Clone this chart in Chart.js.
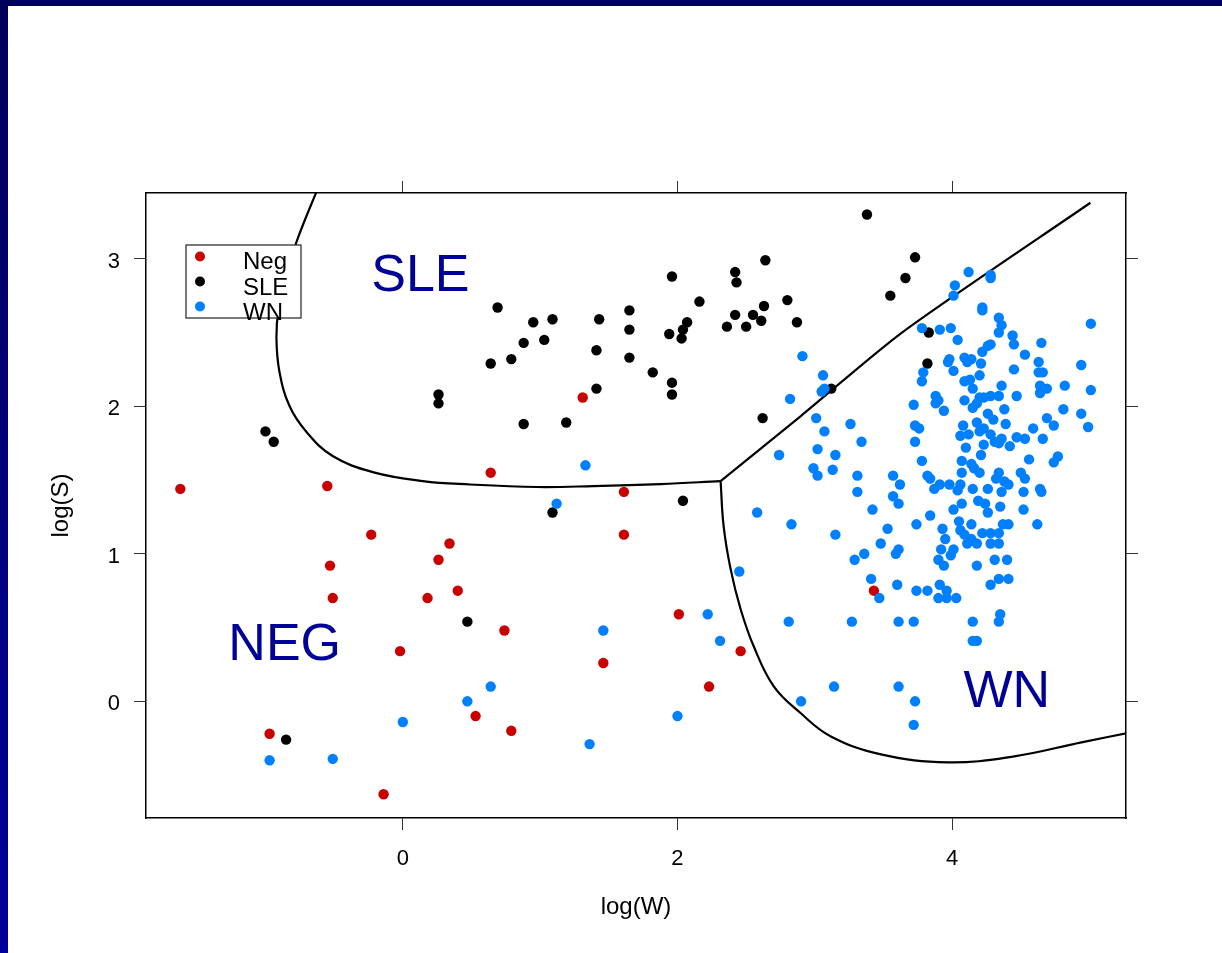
<!DOCTYPE html>
<html lang="en">
<head>
    <meta charset="UTF-8">
    <title>log(S) vs log(W)</title>
    <script src="https://cdn.jsdelivr.net/npm/chart.js"></script>
    <style>
        html, body { margin: 0; padding: 0; background: #fff; overflow: hidden; }
        canvas { display: block; }
    </style>
</head>
<body>
<canvas id="myChart" width="1222" height="953"></canvas>
<script>
// axis ranges and tick values
const xRange = [-1.870, 5.266];
const yRange = [-0.791, 3.446];
const xTicks = [0, 2, 4];
const yTicks = [0, 1, 2, 3];

const seriesNames = ['Neg', 'SLE', 'WN'];
const seriesColors = ['#C80000', '#000000', '#0080FF'];

// [log(W), log(S)]
const negPoints = [
    [-1.62, 1.44], [-0.55, 1.46], [-0.23, 1.13], [-0.53, 0.92], [-0.51, 0.70], [0.26, 0.96],
    [0.34, 1.07], [0.18, 0.70], [0.40, 0.75], [-0.02, 0.34], [-0.97, -0.22], [-0.14, -0.63],
    [0.64, 1.55], [1.31, 2.06], [1.61, 1.42], [1.61, 1.13], [0.74, 0.48], [0.53, -0.10],
    [0.79, -0.20], [1.46, 0.26], [2.01, 0.59], [2.46, 0.34], [2.23, 0.10], [3.43, 0.75]
];

const slePoints = [
    [-1.00, 1.83], [-0.94, 1.76], [0.26, 2.08], [0.26, 2.02], [-0.85, -0.26], [0.47, 0.54],
    [0.69, 2.67], [0.95, 2.57], [1.09, 2.59], [0.88, 2.43], [1.03, 2.45], [0.79, 2.32],
    [0.64, 2.29], [1.43, 2.59], [1.41, 2.38], [1.41, 2.12], [1.65, 2.65], [1.65, 2.52],
    [1.65, 2.33], [1.96, 2.88], [1.94, 2.49], [2.03, 2.46], [2.04, 2.52], [2.07, 2.57],
    [2.16, 2.71], [1.82, 2.23], [1.96, 2.16], [1.96, 2.08], [2.42, 2.91], [2.43, 2.84],
    [2.64, 2.99], [2.42, 2.62], [2.55, 2.62], [2.63, 2.68], [2.61, 2.58], [2.36, 2.54],
    [2.50, 2.54], [2.80, 2.72], [2.87, 2.57], [0.88, 1.88], [1.19, 1.89], [2.62, 1.92],
    [2.04, 1.36], [1.09, 1.28], [3.38, 3.30], [3.73, 3.01], [3.66, 2.87], [3.55, 2.75],
    [3.83, 2.50], [3.82, 2.29], [3.12, 2.12]
];

const wnPoints = [
    [0.47, 0.00], [0.00, -0.14], [-0.97, -0.40], [-0.51, -0.39], [1.33, 1.60], [1.12, 1.34],
    [2.82, 2.05], [2.74, 1.67], [2.58, 1.28], [2.83, 1.20], [2.45, 0.88], [2.22, 0.59],
    [2.31, 0.41], [2.81, 0.54], [1.46, 0.48], [0.64, 0.10], [2.00, -0.10], [1.36, -0.29],
    [2.90, 0.00], [2.91, 2.34],
    [4.12, 2.91], [4.28, 2.89], [4.28, 2.87], [4.02, 2.82], [4.01, 2.75], [4.22, 2.67],
    [4.22, 2.65], [4.34, 2.60], [4.36, 2.55], [4.34, 2.50], [5.01, 2.56], [3.78, 2.53],
    [3.91, 2.52], [3.99, 2.53], [4.04, 2.45], [4.44, 2.48], [4.45, 2.42], [4.65, 2.43],
    [4.22, 2.37], [4.26, 2.41], [4.28, 2.42], [4.53, 2.35], [3.98, 2.32], [3.97, 2.30],
    [4.09, 2.33], [4.14, 2.32], [4.11, 2.30], [4.21, 2.29], [4.63, 2.30], [4.66, 2.23],
    [4.63, 2.23], [4.94, 2.28], [3.79, 2.23], [3.78, 2.17], [4.01, 2.24], [4.20, 2.21],
    [4.45, 2.25], [3.06, 2.21], [3.07, 2.12], [3.05, 2.10], [4.09, 2.17], [4.13, 2.18],
    [4.15, 2.12], [4.36, 2.14], [4.64, 2.14], [4.69, 2.12], [4.64, 2.09], [4.82, 2.14],
    [5.01, 2.11], [3.88, 2.07], [3.90, 2.04], [3.88, 2.02], [4.09, 2.04], [4.20, 2.06],
    [4.18, 2.02], [4.23, 2.06], [4.28, 2.07], [4.34, 2.07], [4.15, 1.99], [4.47, 2.07],
    [3.72, 2.01], [3.94, 1.97], [4.38, 1.98], [4.81, 1.98], [4.94, 1.95], [4.26, 1.95],
    [4.30, 1.91], [3.01, 1.92], [3.26, 1.88], [4.69, 1.92], [4.74, 1.87], [4.99, 1.86],
    [3.73, 1.87], [3.76, 1.85], [4.08, 1.87], [4.18, 1.89], [4.23, 1.85], [4.39, 1.88],
    [3.07, 1.83], [4.06, 1.80], [4.12, 1.81], [4.20, 1.83], [4.28, 1.81], [4.23, 1.74],
    [4.31, 1.76], [4.36, 1.78], [4.42, 1.73], [4.47, 1.79], [4.53, 1.78], [4.59, 1.85],
    [4.66, 1.78], [4.34, 1.75], [3.34, 1.76], [3.73, 1.76], [4.10, 1.72], [3.02, 1.71],
    [3.15, 1.67], [4.21, 1.67], [3.78, 1.63], [4.07, 1.63], [4.14, 1.61], [4.56, 1.64],
    [4.74, 1.62], [4.77, 1.66], [2.99, 1.58], [3.02, 1.53], [3.13, 1.57], [3.31, 1.53],
    [3.57, 1.53], [3.82, 1.53], [4.07, 1.55], [4.16, 1.58], [4.20, 1.55], [4.34, 1.55],
    [4.50, 1.55], [4.53, 1.51], [4.32, 1.51], [4.38, 1.49], [4.41, 1.47], [3.62, 1.47],
    [3.84, 1.51], [3.91, 1.47], [3.87, 1.44], [3.98, 1.47], [4.06, 1.47], [4.04, 1.43],
    [4.15, 1.44], [4.26, 1.44], [4.36, 1.42], [4.52, 1.42], [4.64, 1.44], [4.65, 1.42],
    [3.31, 1.42], [3.57, 1.39], [3.61, 1.34], [3.42, 1.30], [4.07, 1.34], [4.19, 1.36],
    [4.24, 1.34], [4.35, 1.32], [4.52, 1.30], [4.01, 1.30],
    [4.26, 1.28], [3.15, 1.13], [3.74, 1.20], [3.84, 1.26], [3.53, 1.17], [3.48, 1.07],
    [3.36, 1.00], [3.29, 0.96], [3.59, 1.00], [3.61, 1.03], [3.41, 0.83], [3.47, 0.70],
    [3.60, 0.79], [3.74, 0.75], [3.82, 0.75], [3.91, 0.79], [3.90, 0.70], [3.96, 0.70],
    [4.03, 0.70], [3.96, 0.75], [3.93, 1.17], [3.95, 1.10], [3.92, 1.03], [4.01, 1.03],
    [3.99, 0.99], [3.90, 0.96], [3.94, 0.92], [4.05, 1.22], [4.06, 1.16], [4.14, 1.20],
    [4.09, 1.13], [4.14, 1.10], [4.11, 1.07], [4.18, 1.07], [4.22, 1.14], [4.28, 1.14],
    [4.34, 1.14], [4.28, 1.07], [4.34, 1.07], [4.37, 1.20], [4.41, 1.20], [4.62, 1.20],
    [4.31, 0.96], [4.40, 0.96], [4.18, 0.92], [4.28, 0.79], [4.34, 0.83], [4.41, 0.83],
    [4.35, 0.59], [4.34, 0.54], [4.15, 0.54], [4.18, 0.41], [4.15, 0.41], [3.27, 0.54],
    [3.61, 0.54], [3.72, 0.54], [3.14, 0.10], [3.61, 0.10], [3.73, 0.00], [3.72, -0.16]
];

// class boundaries
const sleBoundary = [
    [-0.60, 3.52], [-0.774, 3.115], [-0.854, 2.864], [-0.905, 2.661], [-0.920, 2.457],
    [-0.898, 2.233], [-0.825, 2.002], [-0.701, 1.826], [-0.511, 1.663], [-0.219, 1.554],
    [0.146, 1.493], [0.490, 1.470], [0.978, 1.453], [1.387, 1.459], [1.876, 1.473], [2.314, 1.493]
];
const splitLine = [[2.314, 1.493], [2.898, 1.934], [3.642, 2.505], [5.007, 3.380]];
const wnBoundary = [
    [2.314, 1.493], [2.336, 1.188], [2.387, 0.896], [2.460, 0.624], [2.555, 0.373],
    [2.701, 0.102], [2.898, -0.081], [3.117, -0.238], [3.482, -0.360], [3.971, -0.414],
    [4.453, -0.373], [4.942, -0.278], [5.307, -0.210]
];

const regionLabels = ['SLE', 'NEG', 'WN'];
const regionAnchors = [[0.128, 2.779], [-0.860, 0.283], [4.398, -0.037]];

const FONT = '"Liberation Sans", Arial, Helvetica, sans-serif';
Chart.defaults.font.family = FONT;
Chart.defaults.color = '#000';

const toXY = pts => pts.map(p => ({ x: p[0], y: p[1] }));
const fixedTicks = vals => scale => { scale.ticks = vals.map(v => ({ value: v })); };

function pointSet(name, pts, color, order) {
    return {
        label: name, data: toXY(pts), backgroundColor: color, borderColor: color,
        pointRadius: 5.2, pointHoverRadius: 5.2, pointBorderWidth: 0, order: order
    };
}
function lineSet(pts, tension) {
    return {
        label: '', data: toXY(pts), showLine: true, pointRadius: 0, pointHoverRadius: 0,
        borderColor: '#000', borderWidth: 2.2, tension: tension, fill: false, order: 4
    };
}

// navy frame, region names, legend box
const decor = {
    id: 'decor',
    beforeDraw(chart) {
        const { ctx, width, height } = chart;
        ctx.save();
        ctx.fillStyle = '#fff';
        ctx.fillRect(0, 0, width, height);
        const g = ctx.createLinearGradient(0, 0, 0, height);
        g.addColorStop(0, '#00005A');
        g.addColorStop(1, '#00009A');
        ctx.fillStyle = g;
        ctx.fillRect(0, 0, 8, height);
        ctx.fillStyle = '#00005A';
        ctx.fillRect(0, 0, width, 6);
        ctx.restore();
    },
    afterDatasetsDraw(chart) {
        const { ctx } = chart;
        const x = chart.scales.x, y = chart.scales.y;
        ctx.save();
        ctx.font = '52px ' + FONT;
        ctx.fillStyle = '#000096';
        ctx.textAlign = 'center';
        ctx.textBaseline = 'alphabetic';
        regionLabels.forEach((t, i) => {
            ctx.fillText(t, x.getPixelForValue(regionAnchors[i][0]), y.getPixelForValue(regionAnchors[i][1]));
        });

        const bx = 186, by = 245, bw = 115, bh = 73;
        ctx.fillStyle = '#fff';
        ctx.fillRect(bx, by, bw, bh);
        ctx.strokeStyle = '#333';
        ctx.lineWidth = 1.3;
        ctx.strokeRect(bx, by, bw, bh);
        ctx.font = '24px ' + FONT;
        ctx.textAlign = 'left';
        seriesNames.forEach((name, i) => {
            ctx.fillStyle = seriesColors[i];
            ctx.beginPath();
            ctx.arc(bx + 14, by + 11.5 + i * 25, 5, 0, Math.PI * 2);
            ctx.fill();
            ctx.fillStyle = '#000';
            ctx.fillText(name, bx + 57, by + 24 + i * 25.5);
        });
        ctx.restore();
    }
};

const tickGrid = { drawOnChartArea: false, drawTicks: true, tickLength: 12, color: '#333', lineWidth: 1 };
const frame = { display: true, color: '#000', width: 1.5 };

const ctx = document.getElementById('myChart').getContext('2d');
const myChart = new Chart(ctx, {
    type: 'scatter',
    data: {
        datasets: [
            pointSet(seriesNames[2], wnPoints, seriesColors[2], 1),
            pointSet(seriesNames[1], slePoints, seriesColors[1], 2),
            pointSet(seriesNames[0], negPoints, seriesColors[0], 3),
            lineSet(sleBoundary, 0.4),
            lineSet(splitLine, 0.25),
            lineSet(wnBoundary, 0.4)
        ]
    },
    options: {
        responsive: false,
        animation: false,
        events: [],
        layout: { padding: 0 },
        plugins: { legend: { display: false }, tooltip: { enabled: false } },
        scales: {
            x: {
                type: 'linear', position: 'bottom', min: xRange[0], max: xRange[1],
                afterBuildTicks: fixedTicks(xTicks),
                afterFit: s => { s.height = 135; },
                grid: tickGrid, border: frame,
                ticks: { color: '#000', font: { size: 22 }, padding: 16, maxRotation: 0 },
                title: { display: true, text: 'log(W)', color: '#000', font: { size: 24 }, padding: { top: 0, bottom: 31 } }
            },
            x2: {
                type: 'linear', position: 'top', display: true, min: xRange[0], max: xRange[1],
                afterBuildTicks: fixedTicks(xTicks),
                afterFit: s => { s.height = 193; },
                grid: tickGrid, border: frame,
                ticks: { display: false }
            },
            y: {
                type: 'linear', position: 'left', min: yRange[0], max: yRange[1],
                afterBuildTicks: fixedTicks(yTicks),
                afterFit: s => { s.width = 146; },
                grid: tickGrid, border: frame,
                ticks: { color: '#000', font: { size: 22 }, padding: 14, labelOffset: 3 },
                title: { display: true, text: 'log(S)', color: '#000', font: { size: 24 }, padding: { top: 47, bottom: 0 } }
            },
            y2: {
                type: 'linear', position: 'right', display: true, min: yRange[0], max: yRange[1],
                afterBuildTicks: fixedTicks(yTicks),
                afterFit: s => { s.width = 96; },
                grid: tickGrid, border: frame,
                ticks: { display: false }
            }
        }
    },
    plugins: [decor]
});
</script>
</body>
</html>
